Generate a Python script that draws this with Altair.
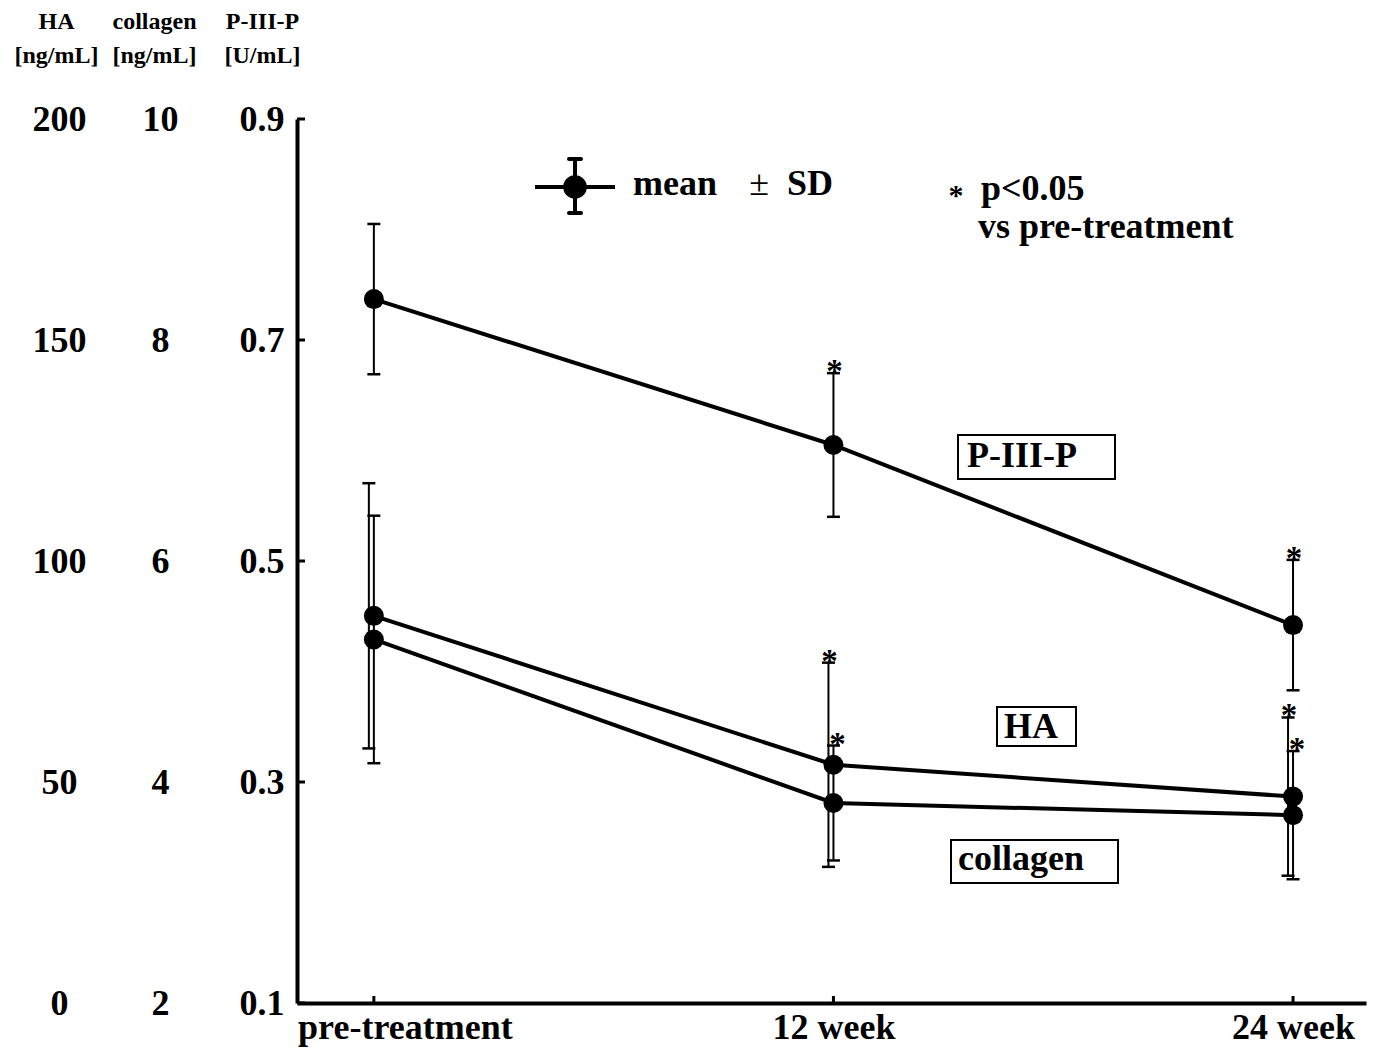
import altair as alt
import pandas as pd

# ---------------- data ----------------
timepoints = ["pre-treatment", "12 week", "24 week"]
significant = [False, True, True]

p3p_mean = [0.737, 0.605, 0.442]
p3p_sd = [0.068, 0.065, 0.059]

ha_mean = [87.6, 53.9, 46.7]
ha_sd = [30.0, 23.1, 17.9]

col_mean = [5.29, 3.81, 3.70]
col_sd = [1.12, 0.52, 0.58]

p3p_ticks = [0.1, 0.3, 0.5, 0.7, 0.9]
ha_ticks = [0, 50, 100, 150, 200]
col_ticks = [2, 4, 6, 8, 10]

series_labels = ["P-III-P", "HA", "collagen"]

# ---------------- styling ----------------
FONT = "Liberation Serif"
W, H = 1069, 884
BIG = 36


def frame(mean, sd):
    return pd.DataFrame({
        "time": timepoints,
        "mean": mean,
        "lo": [m - s for m, s in zip(mean, sd)],
        "hi": [m + s for m, s in zip(mean, sd)],
        "star": ["*" if s else "" for s in significant],
    })


x_scale = alt.Scale(type="point", padding=0.163, align=0.513)

x_axis = alt.Axis(
    labelOffset={"condition": {"test": "datum.value === 'pre-treatment'", "value": 31},
                 "value": 0},
)


def X():
    return alt.X("time:N", sort=timepoints, scale=x_scale, title=None, axis=x_axis)


def y_axis(values, fmt, title, title_x, label_pad, align, domain):
    return alt.Axis(
        orient="left", values=values, format=fmt, grid=False,
        domain=domain, domainColor="black", domainWidth=4,
        ticks=False,
        labelFont=FONT, labelFontSize=BIG, labelFontWeight="bold", labelColor="black",
        labelPadding=label_pad, labelAlign=align,
        title=title, titleAngle=0, titleAlign="center", titleBaseline="alphabetic",
        titleX=title_x, titleY=-91, titleFont=FONT, titleFontSize=24,
        titleFontWeight="bold", titleColor="black", titleLineHeight=34,
    )


def series(mean, sd, domain, axis, err_off, star_off):
    df = frame(mean, sd)
    ysc = alt.Scale(domain=domain, nice=False, zero=False)
    base = alt.Chart(df)
    line = base.mark_line(color="black", strokeWidth=4).encode(
        x=X(), y=alt.Y("mean:Q", scale=ysc, axis=axis),
    )
    err = base.mark_rule(color="black", strokeWidth=2, xOffset=err_off).encode(
        x=X(), y=alt.Y("lo:Q", scale=ysc, axis=None), y2="hi:Q"
    )
    cap_hi = base.mark_tick(orient="horizontal", size=13, thickness=2.5, color="black",
                            opacity=1, xOffset=err_off).encode(
        x=X(), y=alt.Y("hi:Q", scale=ysc, axis=None)
    )
    cap_lo = base.mark_tick(orient="horizontal", size=13, thickness=2.5, color="black",
                            opacity=1, xOffset=err_off).encode(
        x=X(), y=alt.Y("lo:Q", scale=ysc, axis=None)
    )
    pts = base.mark_circle(size=400, color="black", opacity=1).encode(
        x=X(), y=alt.Y("mean:Q", scale=ysc, axis=None)
    )
    stars = base.mark_text(font=FONT, fontSize=33, fontWeight="bold", align="center",
                           baseline="alphabetic", dy=9, xOffset=star_off,
                           color="black").encode(
        x=X(), y=alt.Y("hi:Q", scale=ysc, axis=None), text="star:N"
    )
    return [line, err, cap_hi, cap_lo, pts, stars]


p3p_scale = alt.Scale(domain=[0.1, 0.9], nice=False, zero=False)
ytick = alt.Chart(pd.DataFrame({"v": p3p_ticks})).mark_rule(color="black", strokeWidth=3).encode(
    y=alt.Y("v:Q", scale=p3p_scale, axis=None), x=alt.value(0), x2=alt.value(8)
)
xtick = alt.Chart(pd.DataFrame({"time": timepoints})).mark_rule(color="black", strokeWidth=3).encode(
    x=X(), y=alt.value(H), y2=alt.value(H - 7)
)

p3p_marks = series(
    p3p_mean, p3p_sd, [0.1, 0.9],
    y_axis(p3p_ticks, ".1f", ["P-III-P", "[U/mL]"], -35, 13, "right", True),
    0, 1,
)
ha_marks = series(
    ha_mean, ha_sd, [0, 200],
    y_axis(ha_ticks, "d", ["HA", "[ng/mL]"], -241, 238, "center", False),
    -5, -4,
)
col_marks = series(
    col_mean, col_sd, [2, 10],
    y_axis(col_ticks, "d", ["collagen", "[ng/mL]"], -143, 137, "center", False),
    0, 4,
)

# ---------------- annotations (legend, labels) ----------------
ann = alt.Chart(pd.DataFrame({"k": [0]}))


def txt(s, x, y, size=BIG, weight="bold", align="left"):
    return ann.mark_text(font=FONT, fontSize=size, fontWeight=weight, align=align,
                         baseline="alphabetic", color="black").encode(
        x=alt.value(x), y=alt.value(y), text=alt.value(s)
    )


def box(x1, x2, y1, y2):
    return ann.mark_rect(fill="white", stroke="black", strokeWidth=2).encode(
        x=alt.value(x1), x2=alt.value(x2), y=alt.value(y1), y2=alt.value(y2)
    )


annotations = [
    ann.mark_rule(color="black", strokeWidth=4).encode(
        x=alt.value(238), x2=alt.value(318), y=alt.value(68)),
    ann.mark_rule(color="black", strokeWidth=4).encode(
        x=alt.value(278), y=alt.value(40), y2=alt.value(94)),
    ann.mark_rule(color="black", strokeWidth=4, strokeCap="round").encode(
        x=alt.value(272), x2=alt.value(284), y=alt.value(40)),
    ann.mark_rule(color="black", strokeWidth=4, strokeCap="round").encode(
        x=alt.value(272), x2=alt.value(284), y=alt.value(94)),
    ann.mark_circle(size=560, color="black", opacity=1).encode(
        x=alt.value(278), y=alt.value(68)),
    txt("mean", 336, 76),
    txt("±", 462, 76, weight="normal", align="center"),
    txt("SD", 490, 76),
    txt("*", 659, 86, size=30, align="center"),
    txt("p<0.05", 684, 81),
    txt("vs pre-treatment", 681, 119),
    box(661, 818, 316, 360), txt(series_labels[0], 670, 348),
    box(700, 779, 588, 627), txt(series_labels[1], 707, 619),
    box(654, 821, 721, 764), txt(series_labels[2], 661, 751),
]

chart = alt.layer(*p3p_marks, ytick, xtick, *ha_marks, *col_marks, *annotations).resolve_scale(
    y="independent"
).properties(
    width=W, height=H,
    padding={"left": 289, "top": 111, "right": 2, "bottom": 46},
    autosize=alt.AutoSizeParams(type="none"),
    background="white",
).configure_view(stroke=None).configure_axisX(
    domain=True, domainColor="black", domainWidth=4, ticks=False, grid=False,
    labelAngle=0, labelFont=FONT, labelFontSize=BIG, labelFontWeight="bold",
    labelColor="black", labelPadding=7, labelLimit=500,
)

chart.save("out.html", embed_options={"renderer": "svg", "actions": False})
